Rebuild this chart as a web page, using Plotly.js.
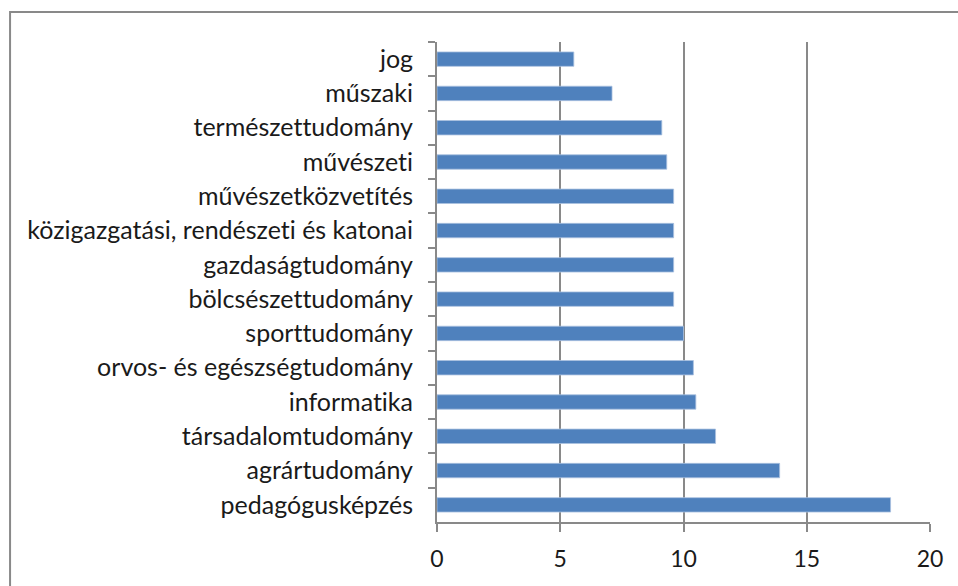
<!DOCTYPE html>
<html>
<head>
<meta charset="utf-8">
<script src="https://cdn.plot.ly/plotly-3.0.1.min.js"></script>
<style>
html,body{margin:0;padding:0;background:#fff;}
#chart{width:958px;height:586px;}
#chart text{font-variant-ligatures:none;font-feature-settings:"liga" 0,"clig" 0;}
</style>
</head>
<body>
<div id="chart"></div>
<script>
var categories = [
  "jog",
  "műszaki",
  "természettudomány",
  "művészeti",
  "művészetközvetítés",
  "közigazgatási, rendészeti és katonai",
  "gazdaságtudomány",
  "bölcsészettudomány",
  "sporttudomány",
  "orvos- és egészségtudomány",
  "informatika",
  "társadalomtudomány",
  "agrártudomány",
  "pedagógusképzés"
];
var values = [5.55, 7.1, 9.12, 9.32, 9.6, 9.6, 9.6, 9.6, 10.0, 10.4, 10.5, 11.3, 13.9, 18.4];
var xTicks = [0, 5, 10, 15, 20];

var gridColor = "#898989";
var fontFam = "Lato, 'Open Sans', sans-serif";

var trace = {
  type: "bar",
  orientation: "h",
  y: categories,
  x: values,
  marker: {color: "#4F81BD", line: {color: "#A9C0E0", width: 0.8}},
  hoverinfo: "x+y"
};

var layout = {
  width: 958,
  height: 586,
  margin: {l: 437, r: 28, t: 42, b: 64},
  paper_bgcolor: "#ffffff",
  plot_bgcolor: "#ffffff",
  showlegend: false,
  bargap: 0.58,
  font: {family: fontFam, size: 23, color: "#1a1a1a"},
  xaxis: {
    range: [0, 20],
    tickvals: xTicks,
    ticktext: xTicks.map(String),
    showgrid: true,
    gridcolor: gridColor,
    gridwidth: 2,
    zeroline: false,
    showline: true,
    linecolor: gridColor,
    linewidth: 2,
    ticks: "outside",
    ticklen: 8,
    tickwidth: 2,
    tickcolor: gridColor,
    ticklabelstandoff: 7,
    tickfont: {family: fontFam, size: 23, color: "#1a1a1a"},
    fixedrange: true
  },
  yaxis: {
    type: "category",
    autorange: "reversed",
    showgrid: false,
    zeroline: false,
    showline: true,
    linecolor: gridColor,
    linewidth: 2,
    ticks: "outside",
    tickson: "boundaries",
    ticklen: 7,
    tickwidth: 2,
    tickcolor: gridColor,
    ticklabelstandoff: 17,
    tickfont: {family: fontFam, size: 25, color: "#1a1a1a"},
    fixedrange: true
  },
  shapes: [{
    type: "rect",
    xref: "paper", yref: "paper",
    x0: -0.866, x1: 1.3,
    y0: -0.4, y1: 1.0625,
    line: {color: gridColor, width: 2},
    fillcolor: "rgba(0,0,0,0)",
    layer: "above"
  }]
};

Plotly.newPlot("chart", [trace], layout, {displayModeBar: false, staticPlot: true});
</script>
</body>
</html>
